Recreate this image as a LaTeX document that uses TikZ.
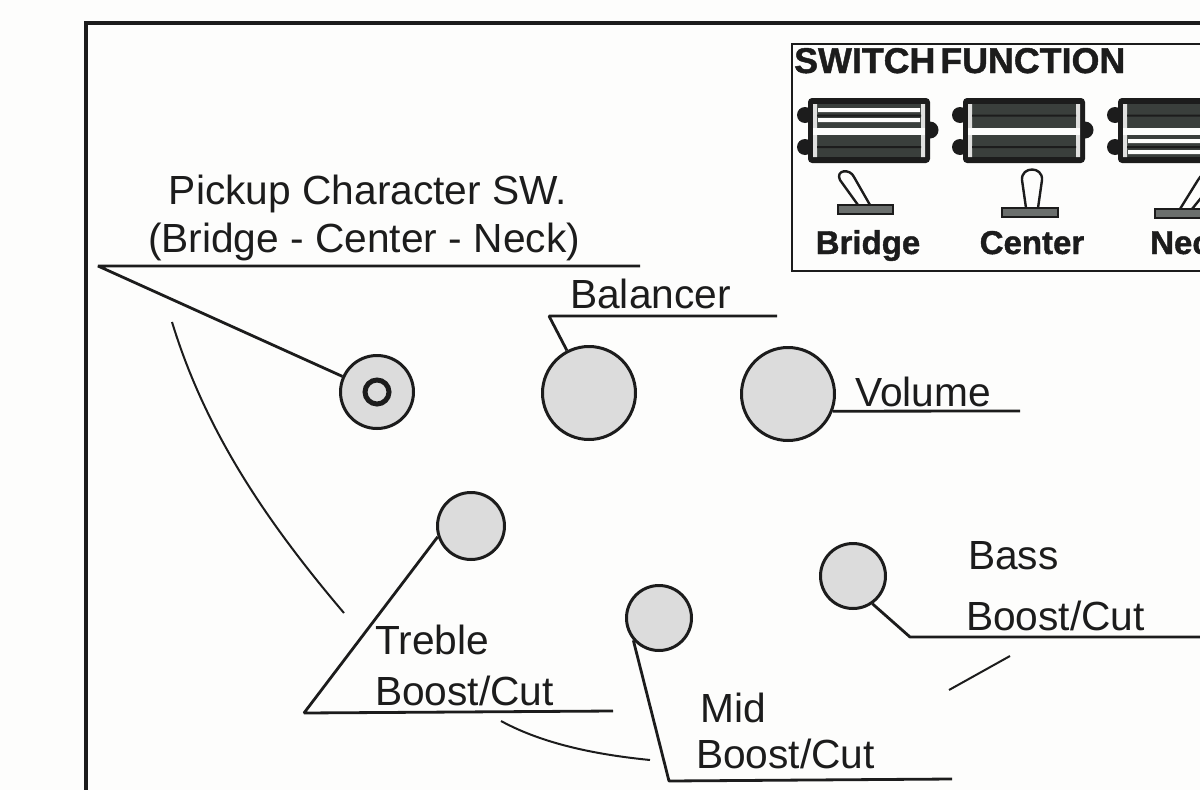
\documentclass[tikz,border=0pt]{standalone}
\usepackage{fontspec}
\setmainfont{Liberation Sans}
\newfontfamily\fatfont[UprightFont=* Bold,FakeBold=1.2]{Liberation Sans}
\usetikzlibrary{calc}
\definecolor{ink}{HTML}{1C1C1C}
\definecolor{knobfill}{HTML}{DCDCDC}
\definecolor{stripe}{HTML}{3A3F3C}
\definecolor{paper}{HTML}{FDFDFC}
\tikzset{
  lead/.style={draw=ink,line width=2.8pt,line join=bevel},
  thinlead/.style={draw=ink,line width=2pt},
  knob/.style={circle,draw=ink,fill=knobfill,line width=3pt,inner sep=0pt,minimum size=#1},
  label/.style={font=\fontsize{40.7}{44}\selectfont,text=ink,anchor=base west,inner sep=0pt},
  boldlabel/.style={font=\fontsize{33}{36}\selectfont\fatfont,text=ink,inner sep=0pt,anchor=base},
  titlelabel/.style={font=\fontsize{35.8}{38}\selectfont\fatfont,text=ink,inner sep=0pt,anchor=base west},
  frameline/.style={draw=ink,line width=4pt},
  boxline/.style={draw=ink,line width=2.6pt},
  lever/.style={draw=ink,fill=paper,line width=2.4pt,line join=round},
  leverbase/.style={draw=ink,fill=stripe!75,line width=2.4pt},
}
\newcommand{\pickupbody}[3]{%
  \begin{scope}[shift={(#1,0)}]
    \fill[ink] (-3,115) circle (8) (-3,147) circle (8) (122,130) circle (8.5);
    \fill[ink,rounded corners=4pt] (0,98) rectangle (122,163);
    \fill[stripe] (9,104) rectangle (113,157);
    \fill[paper!85!stripe] (5,104) rectangle (9,157) (113,104) rectangle (117,157);
    \fill[ink] (9,114.5) rectangle (113,116.5) (9,146) rectangle (113,148);
    \fill[paper] (5,128) rectangle (117,135);
    \ifnum#2=1 \fill[paper] (10,108) rectangle (112,112) (10,118) rectangle (112,122);\fi
    \ifnum#3=1 \fill[paper] (10,139) rectangle (112,143) (10,150) rectangle (112,154);\fi
  \end{scope}}
\begin{document}
\begin{tikzpicture}[x=1pt,y=-1pt]
\useasboundingbox (0,0) rectangle (1200,790);
\clip (0,0) rectangle (1200,790);
\fill[paper] (0,0) rectangle (1200,790);
\draw[frameline] (1210,23) -- (86,23) -- (86,800);
\draw[boxline] (1210,44) -- (792,44) -- (792,271) -- (1210,271);
\node[titlelabel] (title) at (794,73) {SWITCH\hspace{-5pt} FUNCTION};
\pickupbody{808}{1}{0}
\pickupbody{963}{0}{0}
\pickupbody{1118}{0}{1}
% toggles
\draw[lever] (858,205) -- (840,180) .. controls (835,170) and (850,168) .. (854,177) -- (870,205);
\draw[leverbase] (838,205) rectangle (893,214);
\draw[lever] (1026,208) -- (1022,180) .. controls (1021,166) and (1043,166) .. (1042,180) -- (1038,208);
\draw[leverbase] (1002,208) rectangle (1058,217);
\draw[lever] (1180,209) -- (1198,180) .. controls (1203,170) and (1218,172) .. (1214,182) -- (1192,209);
\draw[leverbase] (1155,209) rectangle (1215,218);
\node[boldlabel] (lb) at (868,254) {Bridge};
\node[boldlabel] (lc) at (1032,254) {Center};
\node[boldlabel,anchor=base west] (ln) at (1150,254) {Nec};
% knobs
\node[knob=73pt] (sw) at (377,392) {};
\draw[draw=ink,line width=5pt] (377,392) circle (12);
\node[knob=93pt] (bal) at (589,393) {};
\node[knob=93pt] (vol) at (788,394) {};
\node[knob=67pt] (tre) at (471,526) {};
\node[knob=65pt] (mid) at (659,618) {};
\node[knob=65pt] (bas) at (853,576) {};
% labels
\node[label,anchor=base] (t1) at (368,204) {Pickup Character SW.};
\node[label,anchor=base] (t2) at (364,252) {(Bridge - Center - Neck)};
\node[label] (t3) at (570,308) {Balancer};
\node[label] (t4) at (855,406) {Volume};
\node[label] (t5) at (968,569) {Bass};
\node[label] (t6) at (966,630) {Boost/Cut};
\node[label] (t7) at (375,654) {Treble};
\node[label] (t8) at (375,705) {Boost/Cut};
\node[label] (t9) at (700,722) {Mid};
\node[label] (t10) at (696,768) {Boost/Cut};
% leader corners and free ends
\coordinate (a0) at (98,266); \coordinate (a1) at (640,266);
\coordinate (b0) at (549,316); \coordinate (b1) at (777,316);
\coordinate (c1) at (1020,411);
\coordinate (d0) at (304,713); \coordinate (d1) at (613,711);
\coordinate (e0) at (669,781); \coordinate (e1) at (952,779);
\coordinate (f0) at (910,637); \coordinate (f1) at (1210,637);
\coordinate (g0) at (172,322); \coordinate (g1) at (344,613);
\coordinate (h0) at (501,721); \coordinate (h1) at (650,760);
\coordinate (i0) at (949,690); \coordinate (i1) at (1010,656);
\draw[lead] (a1) -- (a0) -- (sw);
\draw[lead] (b1) -- (b0) -- (bal);
\draw[lead] (vol.-21) -- (c1);
\draw[lead] (tre.-162) -- (d0) -- (d1);
\draw[lead] (mid.-139) -- (e0) -- (e1);
\draw[lead] (bas.-55) -- (f0) -- (f1);
\draw[thinlead] (g0) .. controls (205,430) and (265,520) .. (g1);
\draw[thinlead] (h0) .. controls (545,745) and (600,755) .. (h1);
\draw[thinlead] (i0) -- (i1);
\end{tikzpicture}
\end{document}
